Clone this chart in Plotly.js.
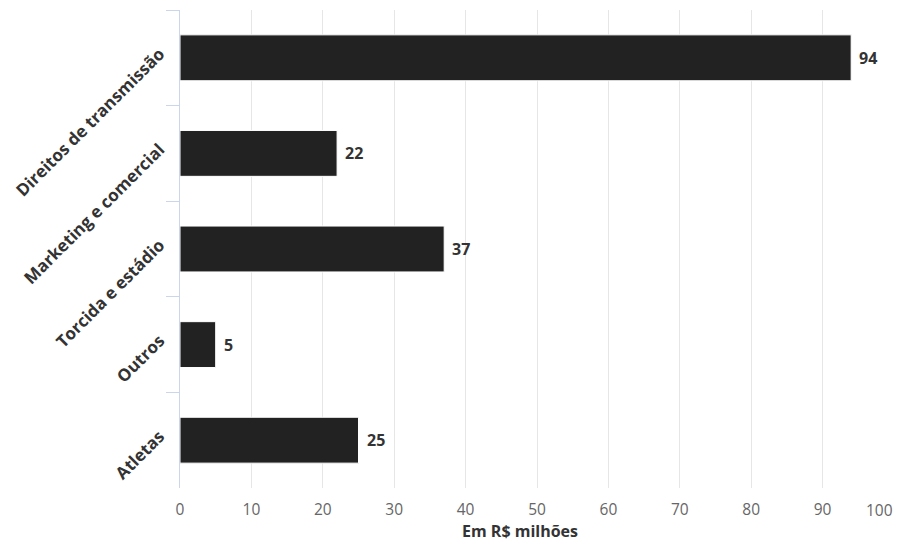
<!DOCTYPE html>
<html>
<head>
<meta charset="utf-8">
<script src="https://cdn.plot.ly/plotly-3.0.1.min.js"></script>
<style>
  html, body { margin: 0; padding: 0; background: #ffffff; }
  #chart { width: 898px; height: 545px; }
</style>
</head>
<body>
<div id="chart"></div>
<script>
// Receitas por origem, em R$ milhões
const categorias = [
  "Direitos de transmissão",
  "Marketing e comercial",
  "Torcida e estádio",
  "Outros",
  "Atletas"
];
const valores = [94, 22, 37, 5, 25];
const ticksX = [0, 10, 20, 30, 40, 50, 60, 70, 80, 90, 100];
const rotuloEixoX = "Em R$ milhões";

const fonte = "'Open Sans', 'Noto Sans', sans-serif";

const barras = {
  type: "bar",
  orientation: "h",
  x: valores,
  y: categorias,
  marker: { color: "#222222", line: { color: "#ffffff", width: 1 } },
  hoverinfo: "x+y"
};

// Rótulos de valor ao lado de cada barra
const rotulosValor = valores.map((v, i) => ({
  x: v, y: categorias[i], xref: "x", yref: "y",
  text: String(v), showarrow: false,
  xanchor: "left", yanchor: "middle", xshift: 6,
  font: { family: fonte, size: 16, color: "#333333", weight: "bold" }
}));

// O último rótulo do eixo x é alinhado à direita para caber na área
const ultimo = ticksX[ticksX.length - 1];
const ticktext = ticksX.map(t => t === ultimo ? "" : String(t));

const anotacoes = rotulosValor.concat([
  {
    x: ultimo, y: 0, xref: "x", yref: "paper",
    text: String(ultimo), showarrow: false,
    xanchor: "right", yanchor: "middle", yshift: -22, xshift: 1,
    font: { family: fonte, size: 15.5, color: "#666666" }
  },
  {
    x: 0.476, y: 0, xref: "paper", yref: "paper",
    text: "<b>" + rotuloEixoX + "</b>", showarrow: false,
    xanchor: "center", yanchor: "middle", yshift: -43,
    font: { family: fonte, size: 16, color: "#333333" }
  }
]);

const layout = {
  width: 898, height: 545,
  margin: { l: 180, r: 4, t: 10, b: 57 },
  paper_bgcolor: "#ffffff", plot_bgcolor: "#ffffff",
  font: { family: fonte },
  showlegend: false,
  bargap: 0.52,
  xaxis: {
    range: [0, 100],
    tickvals: ticksX, ticktext: ticktext,
    showgrid: true, gridcolor: "#e6e6e6", gridwidth: 1,
    zeroline: false, showline: false,
    ticks: "outside", ticklen: 7, tickcolor: "rgba(0,0,0,0)",
    tickfont: { family: fonte, size: 15.5, color: "#666666" },
    fixedrange: true
  },
  yaxis: {
    autorange: "reversed",
    type: "category",
    showline: true, linecolor: "#ccd6eb", linewidth: 1,
    showgrid: false, zeroline: false,
    ticks: "outside", tickson: "boundaries", ticklen: 13, tickcolor: "#ccd6eb",
    ticklabelstandoff: 16,
    ticklabelshift: 6,
    tickangle: -45,
    tickfont: { family: fonte, size: 17, color: "#333333", weight: "bold" },
    fixedrange: true
  },
  annotations: anotacoes
};

Plotly.newPlot("chart", [barras], layout, { displayModeBar: false, staticPlot: true });
</script>
</body>
</html>
